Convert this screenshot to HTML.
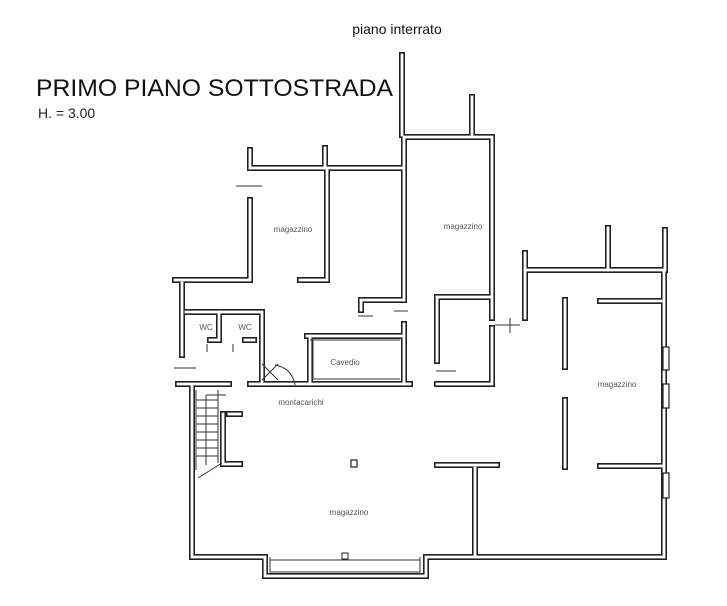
<!DOCTYPE html>
<html><head><meta charset="utf-8"><style>
html,body{margin:0;padding:0;background:#fff;width:727px;height:606px;overflow:hidden}
svg{display:block}
.w{fill:none;stroke:#222;stroke-width:6;stroke-linejoin:miter;stroke-linecap:square}
.wi{fill:none;stroke:#fff;stroke-width:2.8;stroke-linejoin:miter;stroke-linecap:square}
.t{stroke:#333;stroke-width:1;fill:none}
.lbl{font-family:"Liberation Sans",sans-serif;font-size:8px;fill:#555}
</style></head><body>
<svg width="727" height="606" viewBox="0 0 727 606">
<text x="397" y="34" text-anchor="middle" font-family="Liberation Sans,sans-serif" font-size="14" fill="#111">piano interrato</text>
<text x="36" y="96" font-family="Liberation Sans,sans-serif" font-size="24.5" fill="#111" textLength="357" lengthAdjust="spacingAndGlyphs">PRIMO PIANO SOTTOSTRADA</text>
<text x="38" y="118" font-family="Liberation Sans,sans-serif" font-size="14" fill="#222">H. = 3.00</text>

<defs>
<g id="walls">
<!-- bottom big room -->
<path d="M192,384 V557 H265 V576 H426 V557 H664"/>
<path d="M664,557 V270 H525 V318"/>
<path d="M525,270 V253"/>
<path d="M608,270 V228"/>
<path d="M665,270 V230"/>
<path d="M178,384 H229"/>
<path d="M229,414 H240"/>
<path d="M223,414 V464 H240"/>
<path d="M437,465 H497"/>
<path d="M475,468 V557"/>
<!-- middle rooms -->
<path d="M250,384 H410"/>
<path d="M404,384 V324"/>
<path d="M437,384 H492 V328"/>
<path d="M437,297 H492"/>
<path d="M437,297 V361"/>
<path d="M492,318 V137 H404 V300"/>
<path d="M404,300 H361"/>
<path d="M361,300 V310"/>
<path d="M402,135 V55"/>
<path d="M472,135 V97"/>
<!-- left magazzino -->
<path d="M250,168 H402"/>
<path d="M250,168 V150"/>
<path d="M325,168 V148"/>
<path d="M327,168 V280 H300"/>
<path d="M250,200 V280 H175"/>
<path d="M182,283 V355"/>
<path d="M186,312 H262 V382"/>
<path d="M219,312 V340 H210"/>
<path d="M254,340 H245"/>
<path d="M310,336 V384"/>
<path d="M307,336 H404"/>
<!-- shelves -->
<path d="M565,300 V367"/>
<path d="M565,400 V467"/>
<path d="M600,301 H661"/>
<path d="M600,466 H661"/>
</g>
</defs>
<g class="w"><use href="#walls"/></g>
<g class="wi"><use href="#walls"/></g>

<!-- windows on right -->
<rect x="663" y="347" width="6" height="23" fill="#fff" stroke="#222" stroke-width="1.2"/>
<rect x="663" y="384" width="6" height="24" fill="#fff" stroke="#222" stroke-width="1.2"/>
<rect x="663" y="473" width="6" height="25" fill="#fff" stroke="#222" stroke-width="1.2"/>
<!-- cavedio inner lines -->
<path class="t" d="M313,340 V379 H400 M310,340 H400"/>
<!-- bay window -->
<path class="t" d="M270,557 V572 H420 V557 M270,560 H420"/>
<rect x="342" y="553" width="6" height="6" fill="#fff" stroke="#222"/>
<!-- column -->
<rect x="351" y="460" width="6" height="7" fill="#fff" stroke="#222" stroke-width="1.2"/>
<!-- stairs -->
<g class="t">
<path d="M196,390 V470 M218,390 V463 M206,395 V465 M206,395 H226"/>
<path d="M196,400 H218 M196,408 H218 M196,416 H218 M196,424 H218 M196,432 H218 M196,440 H218 M196,448 H218 M196,456 H218 M198,478 L222,463"/>
</g>
<!-- montacarichi X -->
<path class="t" d="M262,364 L278,380 M278,364 L262,380"/>
<path class="t" d="M275,365 Q292,368 295,385"/>
<!-- door ticks -->
<g class="t">
<path d="M236,186 H262 M358,316 H373 M394,311 H408 M174,368 H196 M436,371 H456 M510,318 V333 M495,325 H520 M207,344 V352 M233,344 V352"/>
</g>

<text class="lbl" x="293" y="232" text-anchor="middle">magazzino</text>
<text class="lbl" x="463" y="229" text-anchor="middle">magazzino</text>
<text class="lbl" x="617" y="387" text-anchor="middle">magazzino</text>
<text class="lbl" x="349" y="515" text-anchor="middle">magazzino</text>
<text class="lbl" x="345" y="365" text-anchor="middle">Cavedio</text>
<text class="lbl" x="206" y="330" text-anchor="middle">WC</text>
<text class="lbl" x="245" y="330" text-anchor="middle">WC</text>
<text class="lbl" x="301" y="405" text-anchor="middle">montacarichi</text>
</svg>
</body></html>
